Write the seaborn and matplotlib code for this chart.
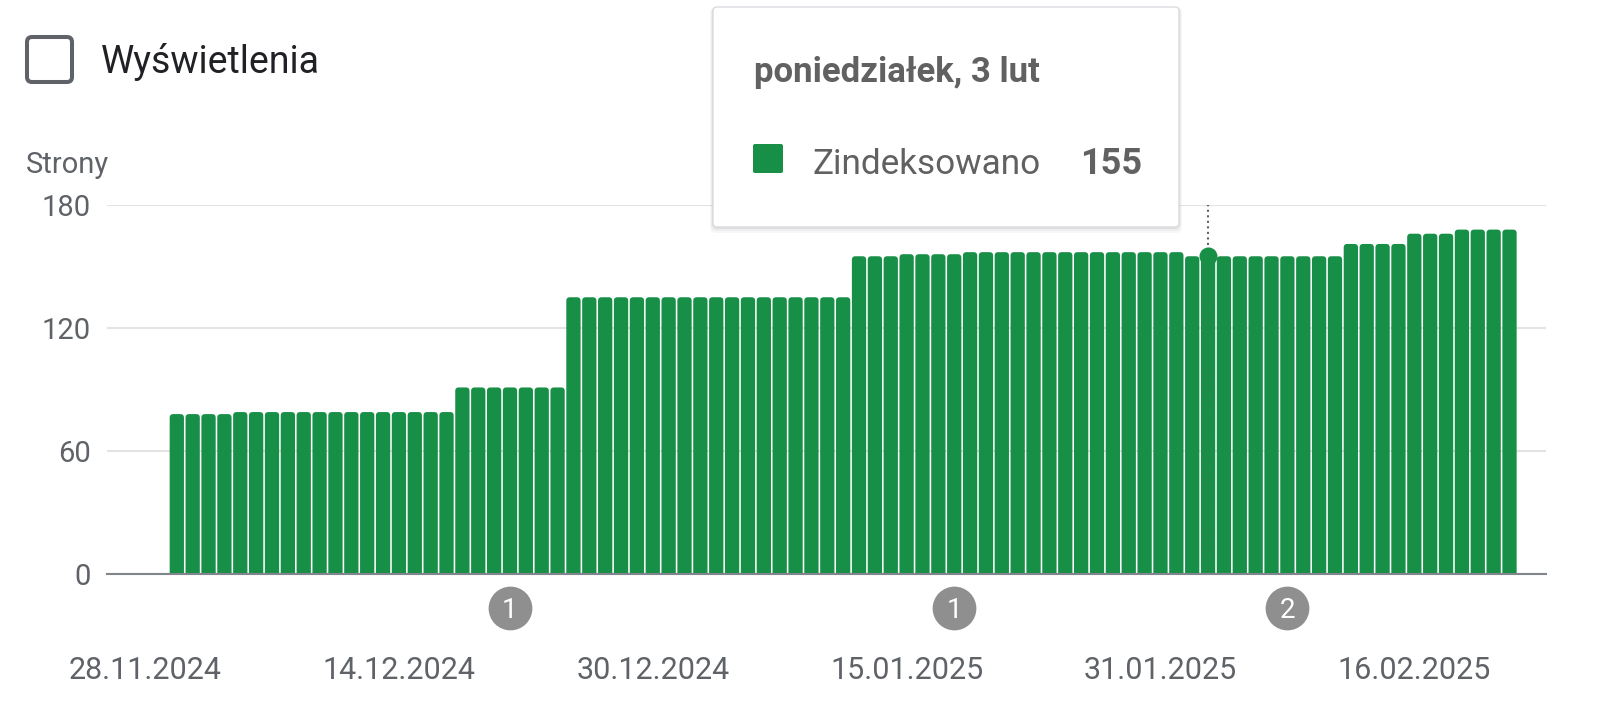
import pandas as pd
import numpy as np
import matplotlib.pyplot as plt
import seaborn as sns
from matplotlib.patches import FancyBboxPatch
from matplotlib.transforms import IdentityTransform, blended_transform_factory

# daily count of indexed pages, one bar per day from 30.11.2024
first_day = '2024-11-30'
indexed = [78, 78, 78, 78,
           79, 79, 79, 79, 79, 79, 79, 79, 79, 79, 79, 79, 79, 79,
           91, 91, 91, 91, 91, 91, 91,
           135, 135, 135, 135, 135, 135, 135, 135, 135,
           135, 135, 135, 135, 135, 135, 135, 135, 135,
           155, 155, 155,
           156, 156, 156, 156,
           157, 157, 157, 157, 157, 157, 157, 157, 157, 157, 157, 157, 157, 157,
           155, 155,
           155, 155, 155, 155, 155, 155, 155, 155,
           161, 161, 161, 161,
           166, 166, 166,
           168, 168, 168, 168]

tick_dates = ['2024-11-28', '2024-12-14', '2024-12-30', '2025-01-15', '2025-01-31', '2025-02-16']
tick_labels = ['28.11.2024', '14.12.2024', '30.12.2024', '15.01.2025', '31.01.2025', '16.02.2025']
y_ticks = [0, 60, 120, 180]

event_dates = ['2024-12-21', '2025-01-18', '2025-02-08']
event_labels = ['1', '1', '2']

hover_date = '2025-02-03'
hover_title = 'poniedziałek, 3 lut'
series_name = 'Zindeksowano'
metric_name = 'Wyświetlenia'
y_title = 'Strony'

green = '#188f46'
grey_txt = '#5f6368'
W, H = 1623, 703

dates = pd.date_range(first_day, periods=len(indexed), freq='D')
df = pd.DataFrame({'date': dates, 'value': indexed})
t0 = dates[0]
df['day'] = (df['date'] - t0).dt.days


def day(s):
    return (pd.Timestamp(s) - t0).days


sns.set_style('white')
plt.rcParams['font.family'] = ['Roboto', 'DejaVu Sans']

fig = plt.figure(figsize=(W / 100, H / 100), dpi=100)
ax = fig.add_axes([107 / W, 1 - 574 / H, (1546 - 107) / W, (574 - 205) / H])

sns.barplot(data=df, x='day', y='value', native_scale=True, color=green,
            saturation=1, width=0.9, errorbar=None, linewidth=0, ax=ax)

xmin, xmax = -4.4, 86.3
ax.set_xlim(xmin, xmax)
ax.set_ylim(0, 180)

# swap the plain bars for ones with rounded tops
px_x = ax.bbox.width / (xmax - xmin)
px_y = ax.bbox.height / 180
r = 3.5 / px_x
for bar in list(ax.patches):
    x0, w, h = bar.get_x(), bar.get_width(), bar.get_height()
    bar.remove()
    ax.add_patch(FancyBboxPatch((x0, -6), w, h + 6,
                                boxstyle=f'round,pad=0,rounding_size={r}',
                                mutation_aspect=px_x / px_y,
                                fc=green, ec='none', zorder=2))

ax.set_xticks([day(d) for d in tick_dates])
ax.set_xticklabels(tick_labels)
ax.set_yticks(y_ticks)
ax.set(xlabel='', ylabel='')
ax.tick_params(axis='x', length=0, pad=59, labelsize=22, labelcolor=grey_txt)
ax.tick_params(axis='y', length=0, pad=11.5, labelsize=21, labelcolor=grey_txt)
ax.grid(axis='y', color='#e3e3e3', lw=1.5)
ax.grid(axis='x', visible=False)
ax.set_axisbelow(True)
for s in ['top', 'right', 'left']:
    ax.spines[s].set_visible(False)
ax.spines['bottom'].set_color('#80868b')
ax.spines['bottom'].set_linewidth(1.5)
ax.spines['bottom'].set_zorder(5)

# annotation markers under the axis
blend = blended_transform_factory(ax.transData, ax.transAxes)
for d, lab in zip(event_dates, event_labels):
    ax.plot(day(d), -0.092, 'o', ms=31.5, color='#8f8f8f', mec='none',
            transform=blend, clip_on=False, zorder=6)
    ax.text(day(d), -0.092, lab, color='white', fontsize=20, ha='center',
            va='center_baseline', transform=blend, clip_on=False, zorder=7)

# hovered day
hx = day(hover_date)
hv = df.loc[df['day'] == hx, 'value'].iloc[0]
ax.plot([hx, hx], [hv, 180], ls=':', color=grey_txt, lw=1.5, zorder=3)
ax.plot([hx, hx], [0, hv], ls=':', color=grey_txt, lw=1.5, alpha=0.4, zorder=3)
ax.plot(hx, hv, 'o', ms=13, color=green, mec='none', zorder=4)

# header
pix = IdentityTransform()
fig.patches.append(FancyBboxPatch((27, H - 82), 45, 45, boxstyle='round,pad=0,rounding_size=5',
                                  fc='white', ec=grey_txt, lw=2.9, transform=pix))
fig.text(101 / W, 1 - 73 / H, metric_name, fontsize=27, color='#202124', va='baseline')
fig.text(26 / W, 1 - 173 / H, y_title, fontsize=21, color=grey_txt, va='baseline')

# tooltip
for grow, a in [(6, 0.03), (4, 0.04), (2, 0.06)]:
    fig.patches.append(FancyBboxPatch((713 - grow / 2, H - 227 - grow), 466 + grow, 220 + grow,
                                      boxstyle='round,pad=0,rounding_size=6',
                                      fc='black', ec='none', alpha=a, transform=pix, zorder=8))
fig.patches.append(FancyBboxPatch((713, H - 227), 466, 220, boxstyle='round,pad=0,rounding_size=4',
                                  fc='white', ec='#dadce0', lw=1, transform=pix, zorder=9))
fig.patches.append(FancyBboxPatch((753, H - 173), 30, 29, boxstyle='round,pad=0,rounding_size=2',
                                  fc=green, ec='none', transform=pix, zorder=10))
fig.text(754 / W, 1 - 82 / H, hover_title, fontsize=25, fontweight='bold',
         color='#616161', va='baseline', zorder=11)
fig.text(813 / W, 1 - 174 / H, series_name, fontsize=25.3, color='#616161', va='baseline', zorder=11)
fig.text(1080 / W, 1 - 174 / H, str(hv), fontsize=26, fontweight='bold',
         color='#616161', va='baseline', zorder=11)

fig.savefig('out.png', dpi=100)
